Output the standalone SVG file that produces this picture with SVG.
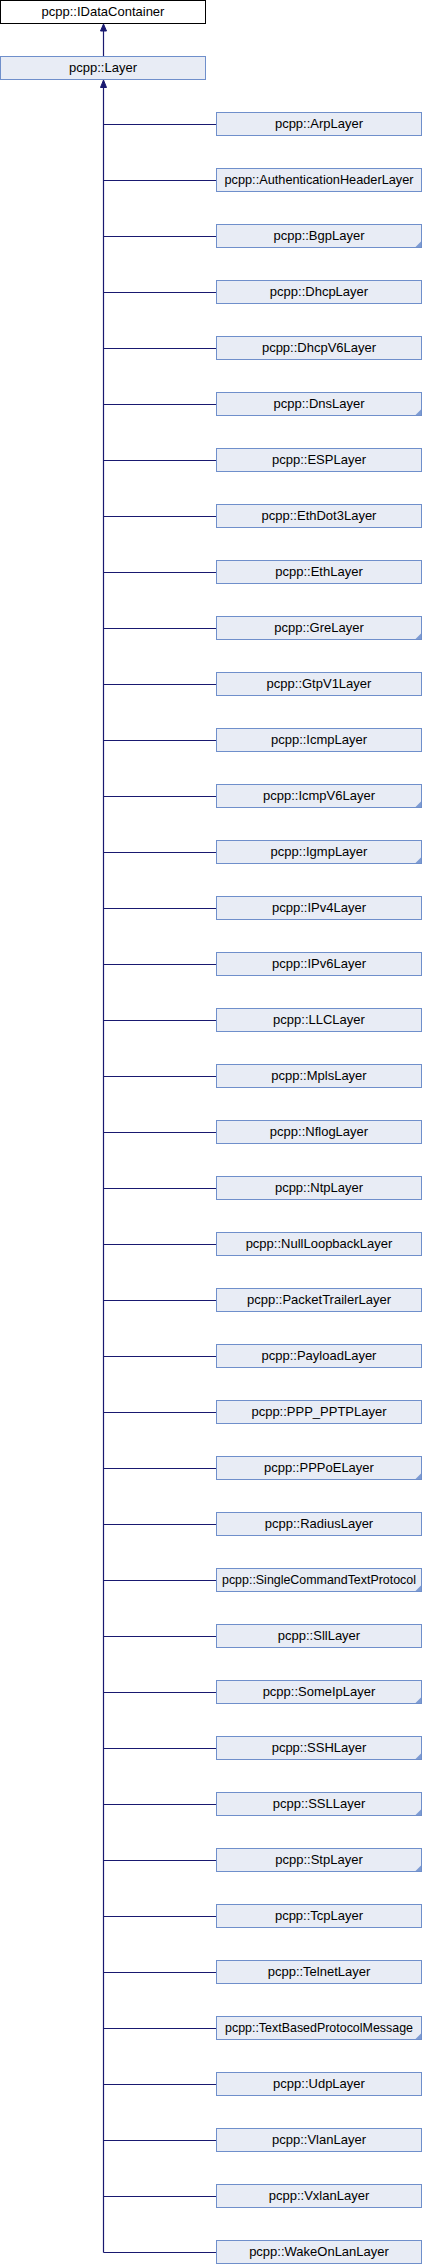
<svg xmlns="http://www.w3.org/2000/svg" width="422" height="2264" viewBox="0 0 422 2264">
<style>
.box{fill:#e8ecf5;stroke:#6f8fcb;stroke-width:1}
.root{fill:#ffffff;stroke:#000000;stroke-width:1}
.lbl{font-family:"Liberation Sans",Arial,sans-serif;font-size:13px;fill:#000000;text-anchor:middle}
.edge{stroke:#191970;stroke-width:1.2;fill:none}
.head{fill:#191970;stroke:#191970;stroke-width:1}
.tri{fill:#7d9bd3}
</style>
<rect width="422" height="2264" fill="#ffffff"/>
<g id="edges">
<line class="edge" x1="103.5" y1="31" x2="103.5" y2="56.5"/>
<polygon class="head" points="103.5,24 100.5,31 106.5,31"/>
<line class="edge" x1="103.5" y1="87" x2="103.5" y2="2252.5"/>
<polygon class="head" points="103.5,80 100.5,87.5 106.5,87.5"/>
<path class="edge" d="M103.5,124.5H216M103.5,180.5H216M103.5,236.5H216M103.5,292.5H216M103.5,348.5H216M103.5,404.5H216M103.5,460.5H216M103.5,516.5H216M103.5,572.5H216M103.5,628.5H216M103.5,684.5H216M103.5,740.5H216M103.5,796.5H216M103.5,852.5H216M103.5,908.5H216M103.5,964.5H216M103.5,1020.5H216M103.5,1076.5H216M103.5,1132.5H216M103.5,1188.5H216M103.5,1244.5H216M103.5,1300.5H216M103.5,1356.5H216M103.5,1412.5H216M103.5,1468.5H216M103.5,1524.5H216M103.5,1580.5H216M103.5,1636.5H216M103.5,1692.5H216M103.5,1748.5H216M103.5,1804.5H216M103.5,1860.5H216M103.5,1916.5H216M103.5,1972.5H216M103.5,2028.5H216M103.5,2084.5H216M103.5,2140.5H216M103.5,2196.5H216M103.5,2252.5H216"/>
</g>
<g id="node_IDataContainer"><rect class="root" x="0.5" y="0.5" width="205" height="23"/><text class="lbl" x="103" y="15.5">pcpp::IDataContainer</text></g>
<g id="node_Layer"><rect class="box" x="0.5" y="56.5" width="205" height="23"/><text class="lbl" x="103" y="71.8">pcpp::Layer</text></g>
<g id="node_ArpLayer"><rect class="box" x="216.5" y="112.5" width="205" height="23"/><text class="lbl" x="319" y="127.8">pcpp::ArpLayer</text></g>
<g id="node_AuthenticationHeaderLayer"><rect class="box" x="216.5" y="168.5" width="205" height="23"/><text class="lbl" x="319" y="183.8" textLength="189" lengthAdjust="spacingAndGlyphs">pcpp::AuthenticationHeaderLayer</text></g>
<g id="node_BgpLayer"><rect class="box" x="216.5" y="224.5" width="205" height="23"/><polygon class="tri" points="415.5,247 421,247 421,241.5"/><text class="lbl" x="319" y="239.8">pcpp::BgpLayer</text></g>
<g id="node_DhcpLayer"><rect class="box" x="216.5" y="280.5" width="205" height="23"/><text class="lbl" x="319" y="295.8">pcpp::DhcpLayer</text></g>
<g id="node_DhcpV6Layer"><rect class="box" x="216.5" y="336.5" width="205" height="23"/><text class="lbl" x="319" y="351.8">pcpp::DhcpV6Layer</text></g>
<g id="node_DnsLayer"><rect class="box" x="216.5" y="392.5" width="205" height="23"/><polygon class="tri" points="415.5,415 421,415 421,409.5"/><text class="lbl" x="319" y="407.8">pcpp::DnsLayer</text></g>
<g id="node_ESPLayer"><rect class="box" x="216.5" y="448.5" width="205" height="23"/><text class="lbl" x="319" y="463.8">pcpp::ESPLayer</text></g>
<g id="node_EthDot3Layer"><rect class="box" x="216.5" y="504.5" width="205" height="23"/><text class="lbl" x="319" y="519.8">pcpp::EthDot3Layer</text></g>
<g id="node_EthLayer"><rect class="box" x="216.5" y="560.5" width="205" height="23"/><text class="lbl" x="319" y="575.8">pcpp::EthLayer</text></g>
<g id="node_GreLayer"><rect class="box" x="216.5" y="616.5" width="205" height="23"/><polygon class="tri" points="415.5,639 421,639 421,633.5"/><text class="lbl" x="319" y="631.8">pcpp::GreLayer</text></g>
<g id="node_GtpV1Layer"><rect class="box" x="216.5" y="672.5" width="205" height="23"/><text class="lbl" x="319" y="687.8">pcpp::GtpV1Layer</text></g>
<g id="node_IcmpLayer"><rect class="box" x="216.5" y="728.5" width="205" height="23"/><text class="lbl" x="319" y="743.8">pcpp::IcmpLayer</text></g>
<g id="node_IcmpV6Layer"><rect class="box" x="216.5" y="784.5" width="205" height="23"/><polygon class="tri" points="415.5,807 421,807 421,801.5"/><text class="lbl" x="319" y="799.8">pcpp::IcmpV6Layer</text></g>
<g id="node_IgmpLayer"><rect class="box" x="216.5" y="840.5" width="205" height="23"/><polygon class="tri" points="415.5,863 421,863 421,857.5"/><text class="lbl" x="319" y="855.8">pcpp::IgmpLayer</text></g>
<g id="node_IPv4Layer"><rect class="box" x="216.5" y="896.5" width="205" height="23"/><text class="lbl" x="319" y="911.8">pcpp::IPv4Layer</text></g>
<g id="node_IPv6Layer"><rect class="box" x="216.5" y="952.5" width="205" height="23"/><text class="lbl" x="319" y="967.8">pcpp::IPv6Layer</text></g>
<g id="node_LLCLayer"><rect class="box" x="216.5" y="1008.5" width="205" height="23"/><text class="lbl" x="319" y="1023.8">pcpp::LLCLayer</text></g>
<g id="node_MplsLayer"><rect class="box" x="216.5" y="1064.5" width="205" height="23"/><text class="lbl" x="319" y="1079.8">pcpp::MplsLayer</text></g>
<g id="node_NflogLayer"><rect class="box" x="216.5" y="1120.5" width="205" height="23"/><text class="lbl" x="319" y="1135.8">pcpp::NflogLayer</text></g>
<g id="node_NtpLayer"><rect class="box" x="216.5" y="1176.5" width="205" height="23"/><text class="lbl" x="319" y="1191.8">pcpp::NtpLayer</text></g>
<g id="node_NullLoopbackLayer"><rect class="box" x="216.5" y="1232.5" width="205" height="23"/><text class="lbl" x="319" y="1247.8">pcpp::NullLoopbackLayer</text></g>
<g id="node_PacketTrailerLayer"><rect class="box" x="216.5" y="1288.5" width="205" height="23"/><text class="lbl" x="319" y="1303.8">pcpp::PacketTrailerLayer</text></g>
<g id="node_PayloadLayer"><rect class="box" x="216.5" y="1344.5" width="205" height="23"/><text class="lbl" x="319" y="1359.8">pcpp::PayloadLayer</text></g>
<g id="node_PPP_PPTPLayer"><rect class="box" x="216.5" y="1400.5" width="205" height="23"/><text class="lbl" x="319" y="1415.8">pcpp::PPP_PPTPLayer</text></g>
<g id="node_PPPoELayer"><rect class="box" x="216.5" y="1456.5" width="205" height="23"/><polygon class="tri" points="415.5,1479 421,1479 421,1473.5"/><text class="lbl" x="319" y="1471.8">pcpp::PPPoELayer</text></g>
<g id="node_RadiusLayer"><rect class="box" x="216.5" y="1512.5" width="205" height="23"/><text class="lbl" x="319" y="1527.8">pcpp::RadiusLayer</text></g>
<g id="node_SingleCommandTextProtocol"><rect class="box" x="216.5" y="1568.5" width="205" height="23"/><polygon class="tri" points="415.5,1591 421,1591 421,1585.5"/><text class="lbl" x="319" y="1583.8" textLength="194" lengthAdjust="spacingAndGlyphs">pcpp::SingleCommandTextProtocol</text></g>
<g id="node_SllLayer"><rect class="box" x="216.5" y="1624.5" width="205" height="23"/><text class="lbl" x="319" y="1639.8">pcpp::SllLayer</text></g>
<g id="node_SomeIpLayer"><rect class="box" x="216.5" y="1680.5" width="205" height="23"/><polygon class="tri" points="415.5,1703 421,1703 421,1697.5"/><text class="lbl" x="319" y="1695.8">pcpp::SomeIpLayer</text></g>
<g id="node_SSHLayer"><rect class="box" x="216.5" y="1736.5" width="205" height="23"/><polygon class="tri" points="415.5,1759 421,1759 421,1753.5"/><text class="lbl" x="319" y="1751.8">pcpp::SSHLayer</text></g>
<g id="node_SSLLayer"><rect class="box" x="216.5" y="1792.5" width="205" height="23"/><polygon class="tri" points="415.5,1815 421,1815 421,1809.5"/><text class="lbl" x="319" y="1807.8">pcpp::SSLLayer</text></g>
<g id="node_StpLayer"><rect class="box" x="216.5" y="1848.5" width="205" height="23"/><polygon class="tri" points="415.5,1871 421,1871 421,1865.5"/><text class="lbl" x="319" y="1863.8">pcpp::StpLayer</text></g>
<g id="node_TcpLayer"><rect class="box" x="216.5" y="1904.5" width="205" height="23"/><text class="lbl" x="319" y="1919.8">pcpp::TcpLayer</text></g>
<g id="node_TelnetLayer"><rect class="box" x="216.5" y="1960.5" width="205" height="23"/><text class="lbl" x="319" y="1975.8">pcpp::TelnetLayer</text></g>
<g id="node_TextBasedProtocolMessage"><rect class="box" x="216.5" y="2016.5" width="205" height="23"/><polygon class="tri" points="415.5,2039 421,2039 421,2033.5"/><text class="lbl" x="319" y="2031.8" textLength="188" lengthAdjust="spacingAndGlyphs">pcpp::TextBasedProtocolMessage</text></g>
<g id="node_UdpLayer"><rect class="box" x="216.5" y="2072.5" width="205" height="23"/><text class="lbl" x="319" y="2087.8">pcpp::UdpLayer</text></g>
<g id="node_VlanLayer"><rect class="box" x="216.5" y="2128.5" width="205" height="23"/><text class="lbl" x="319" y="2143.8">pcpp::VlanLayer</text></g>
<g id="node_VxlanLayer"><rect class="box" x="216.5" y="2184.5" width="205" height="23"/><text class="lbl" x="319" y="2199.8">pcpp::VxlanLayer</text></g>
<g id="node_WakeOnLanLayer"><rect class="box" x="216.5" y="2240.5" width="205" height="23"/><text class="lbl" x="319" y="2255.8">pcpp::WakeOnLanLayer</text></g>
</svg>
